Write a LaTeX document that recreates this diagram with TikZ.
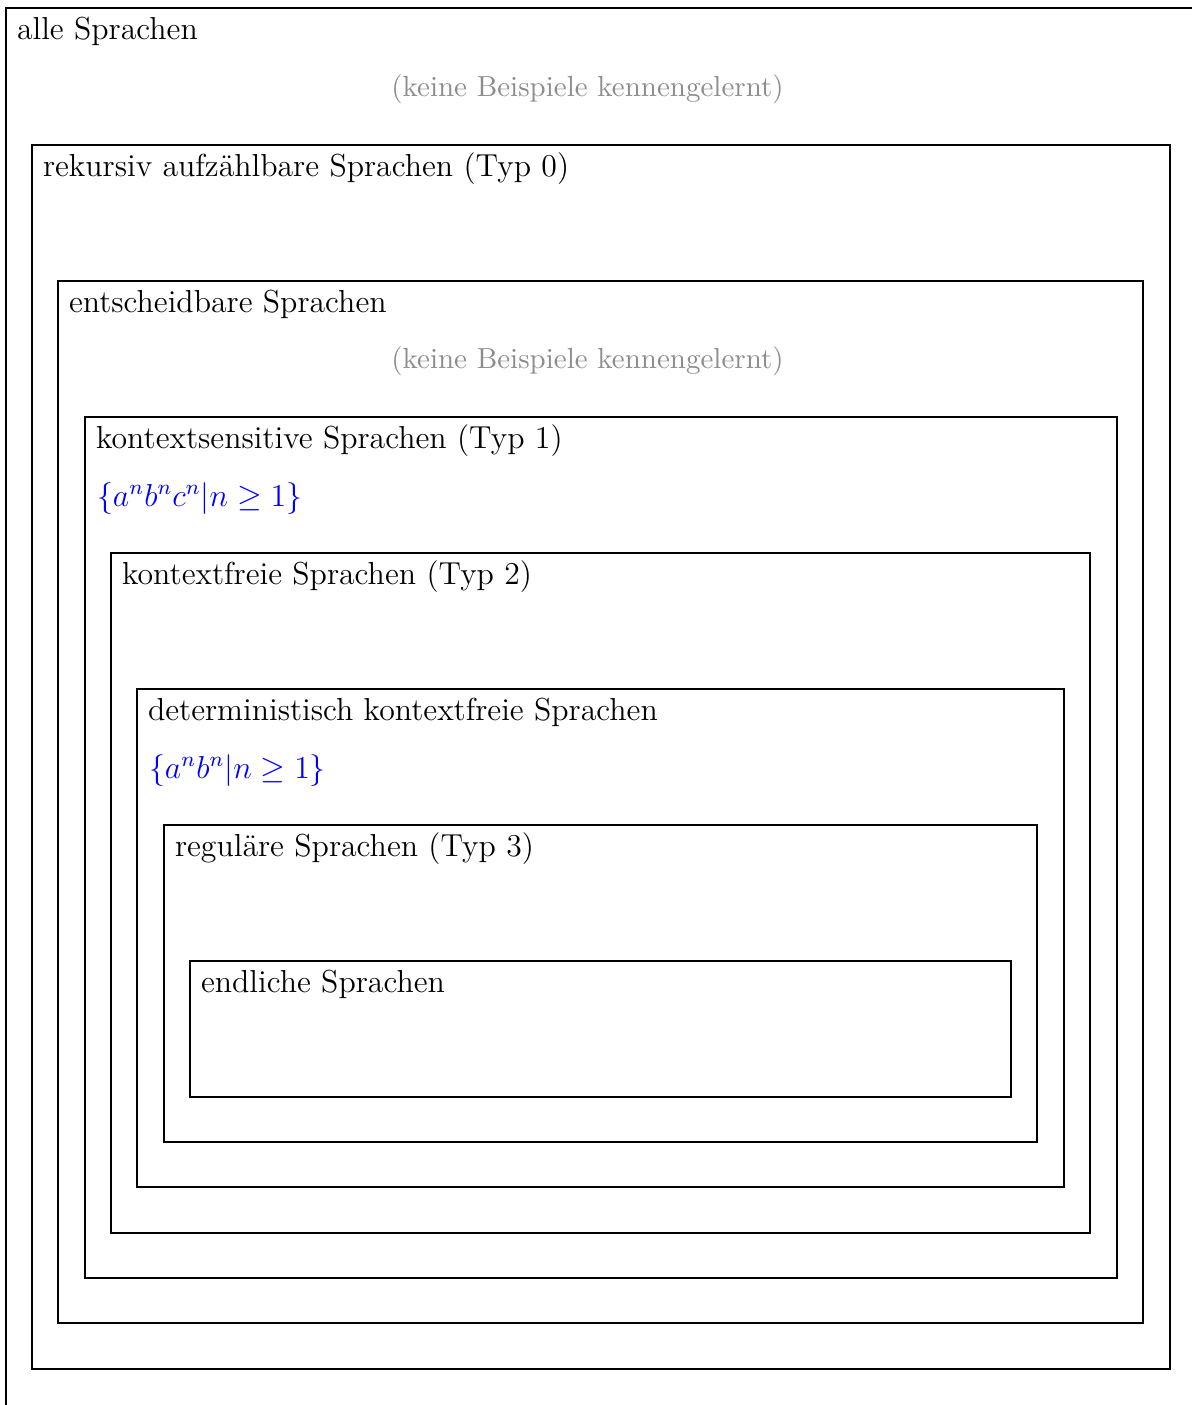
\documentclass[tikz,border=0pt]{standalone}
\begin{document}
\begin{tikzpicture}[x=0.37736pt,y=-0.37736pt,
  lang/.style={draw=black,line width=0.4pt},
  title/.style={anchor=base west,inner sep=0pt,font=\fontsize{12}{14.5}\selectfont},
  none/.style={anchor=base,inner sep=0pt,text=black!45,font=\fontsize{10.95}{13.6}\selectfont},
  ex/.style={text=blue,anchor=base west,inner sep=0pt,font=\fontsize{12}{14.5}\selectfont}]
\useasboundingbox (0,0) rectangle (1192,1405);
\clip (0,0) rectangle (1192,1405);
\draw[lang] (6,8) rectangle (1196,1414);
\draw[lang] (32,145) rectangle (1170,1369);
\draw[lang] (58,281) rectangle (1143,1323);
\draw[lang] (85,417) rectangle (1117,1278);
\draw[lang] (111,553) rectangle (1090,1233);
\draw[lang] (137,689) rectangle (1064,1187);
\draw[lang] (164,825) rectangle (1037,1142);
\draw[lang] (190,961) rectangle (1011,1097);
\node[title] (t0) at (16.5,39.5) {alle Sprachen};
\node[title] (t1) at (42.5,176) {rekursiv aufzählbare Sprachen (Typ 0)};
\node[title] (t2) at (68.5,312) {entscheidbare Sprachen};
\node[title] (t3) at (95.5,448) {kontextsensitive Sprachen (Typ 1)};
\node[title] (t4) at (121.5,584) {kontextfreie Sprachen (Typ 2)};
\node[title] (t5) at (147.5,720) {deterministisch kontextfreie Sprachen};
\node[title] (t6) at (174.5,856) {reguläre Sprachen (Typ 3)};
\node[title] (t7) at (200.5,992) {endliche Sprachen};
\node[none] (n0) at (587.5,96.5) {(keine Beispiele kennengelernt)};
\node[none] (n2) at (587.5,368.5) {(keine Beispiele kennengelernt)};
\node[ex] (e3) at (96.5,506.5) {$\{a^nb^nc^n|n\geq 1\}$};
\node[ex] (e5) at (148.5,778.5) {$\{a^nb^n|n\geq 1\}$};
\end{tikzpicture}
\end{document}
